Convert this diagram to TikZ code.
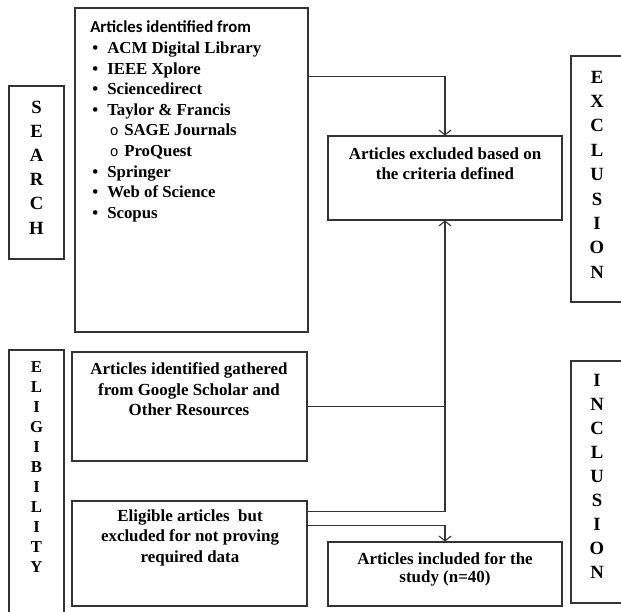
\documentclass[tikz,border=0pt]{standalone}
\usepackage{fontspec}
\setmainfont{Liberation Serif}
\newfontfamily\carlito{Carlito}
\newfontfamily\monofont{Liberation Mono}
\usepackage{tikz}
\usetikzlibrary{
  arrows.meta,
  calc,
  positioning
}

\begin{document}
\begin{tikzpicture}[
  x=0.75pt, y=-0.75pt,
  box/.style={draw=black!80, line width=0.8pt, inner sep=0pt},
  txt/.style={font=\fontsize{12.7}{15.4}\selectfont\bfseries, align=center, inner sep=0pt},
  item/.style={font=\fontsize{12.6}{15.4}\selectfont\bfseries, anchor=base west, inner sep=0pt},
  side/.style={font=\fontsize{14}{18.2}\selectfont\bfseries, align=center, inner sep=0pt},
  link/.style={draw=black!80, line width=0.8pt},
  arr/.style={link, -{Straight Barb[length=3.5pt, width=9pt]}},
]
\useasboundingbox (0,0) rectangle (621,611);
\clip (0,0) rectangle (621,611);

% --- Side labels ---
\node[box, minimum width=41.25pt, minimum height=129.75pt] (searchbox) at (36.5,172.5) {};
\node[side, font=\fontsize{14}{18.15}\selectfont\bfseries] (searchlbl) at (36.5,167.5) {S\\E\\A\\R\\C\\H};
\node[box, minimum width=41.25pt, minimum height=217.5pt] (eligbox) at (36.5,495) {};
\node[side, font=\fontsize{12.5}{15}\selectfont\bfseries] (eliglbl) at (36.5,467) {E\\L\\I\\G\\I\\B\\I\\L\\I\\T\\Y};
\node[box, minimum width=39.75pt, minimum height=184.5pt] (exclbox) at (597.5,179) {};
\node[side, font=\fontsize{14}{18.3}\selectfont\bfseries] (excllbl) at (597,174.5) {E\\X\\C\\L\\U\\S\\I\\O\\N};
\node[box, minimum width=39.75pt, minimum height=181.5pt] (inclbox) at (597.5,482) {};
\node[side, font=\fontsize{14}{18}\selectfont\bfseries] (incllbl) at (597,476) {I\\N\\C\\L\\U\\S\\I\\O\\N};

% --- Sources ---
\node[box, minimum width=174.75pt, minimum height=243pt] (src) at (191.5,170) {};
\node[font=\carlito\fontsize{12.6}{14}\selectfont\bfseries, anchor=base west, inner sep=0pt] (srchead) at (90,32) {Articles identified from};
\foreach \t/\l [count=\i from 0] in {ACM Digital Library/1, IEEE Xplore/1, Sciencedirect/1, Taylor \& Francis/1, SAGE Journals/2, ProQuest/2, Springer/1, Web of Science/1, Scopus/1}{
  \pgfmathsetmacro\yy{48+20.6*\i+5.5}
  \ifnum\l=1
    \node[item] (dot\i) at (92,\yy) {\textbullet};
    \node[item] (item\i) at (107,\yy) {\t};
  \else
    \node[item, font=\monofont\fontsize{11}{13}\selectfont] (dot\i) at (109.5,\yy) {o};
    \node[item] (item\i) at (124,\yy) {\t};
  \fi
}

% --- Other boxes ---
\node[box, minimum width=175.5pt, minimum height=63pt] (excl) at (445,178) {};
\node[txt] (excltxt) at (445,163.5) {Articles excluded based on\\the criteria defined};
\node[box, minimum width=176.25pt, minimum height=81.75pt] (google) at (189.5,406.5) {};
\node[txt] (googletxt) at (189,389.5) {Articles identified gathered\\from Google Scholar and\\Other Resources};
\node[box, minimum width=176.25pt, minimum height=78.75pt] (eligart) at (189.5,553.5) {};
\node[txt] (eligtxt) at (190,537.5) {Eligible articles\ \ but\\excluded for not proving\\required data};
\node[box, minimum width=175.5pt, minimum height=48pt] (incl) at (445,574) {};
\node[txt] (incltxt) at (445,569) {Articles included for the\\[-2pt]study (n=40)};

% --- Connectors ---
\coordinate (srcout) at ($(src.north east)+(0,69)$);
\coordinate (eligout) at ($(eligart.north east)+(0,11)$);
\coordinate (inclout) at ($(eligart.north east)+(0,25)$);
\draw[arr] (srcout) -| (excl.north);
\draw[arr] (eligout) -| (excl.south);
\draw[link] (google.east) -- (google.east -| excl.south);
\draw[arr] (inclout) -| (incl.north);
\end{tikzpicture}
\end{document}
